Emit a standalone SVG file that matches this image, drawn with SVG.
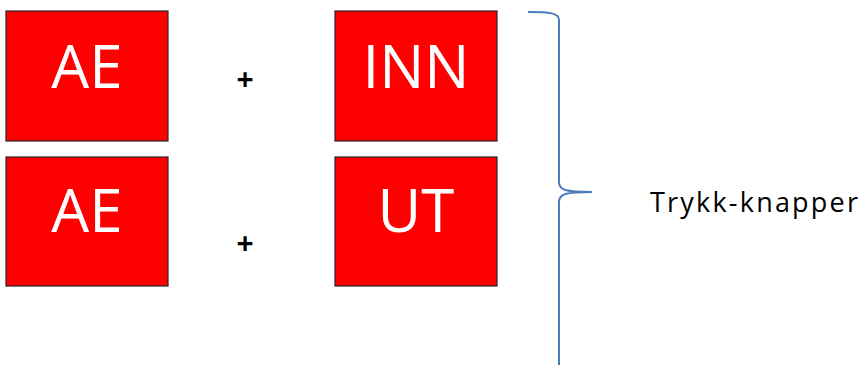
<svg xmlns="http://www.w3.org/2000/svg" width="863" height="365" viewBox="0 0 863 365">
<style>
.box{fill:#ff0000;stroke:#262626;stroke-width:1.2}
.lbl{font-family:"Open Sans","Noto Sans",sans-serif;font-size:60px;fill:#ffffff;text-anchor:middle}
.plus{font-family:"Open Sans","Liberation Sans",sans-serif;font-size:30px;font-weight:bold;fill:#000;text-anchor:middle}
.brace{fill:none;stroke:#4a7ebb;stroke-width:2}
.note{font-family:"Open Sans","Noto Sans",sans-serif;font-size:27px;fill:#000}
</style>
<rect width="863" height="365" fill="#fff"/>
<g id="ae1"><rect class="box" x="6" y="11" width="162" height="130"/><text class="lbl" x="87" y="88">AE</text></g>
<g id="inn"><rect class="box" x="335" y="11" width="162" height="130"/><text class="lbl" x="416" y="88">INN</text></g>
<g id="ae2"><rect class="box" x="6" y="157" width="162" height="129"/><text class="lbl" x="87" y="232">AE</text></g>
<g id="ut"><rect class="box" x="335" y="157" width="162" height="129"/><text class="lbl" x="416" y="232">UT</text></g>
<g id="plus1"><text class="plus" x="245" y="90">+</text></g>
<g id="plus2"><text class="plus" x="245" y="254">+</text></g>
<g id="brace"><path class="brace" d="M528,12 C550,12 559,13 559,20 L559,182 C559,190 565,192 592,192 C565,192 559,194 559,202 L559,365"/></g>
<g id="label"><text class="note" x="650" y="212" textLength="208" lengthAdjust="spacing">Trykk-knapper</text></g>
</svg>
